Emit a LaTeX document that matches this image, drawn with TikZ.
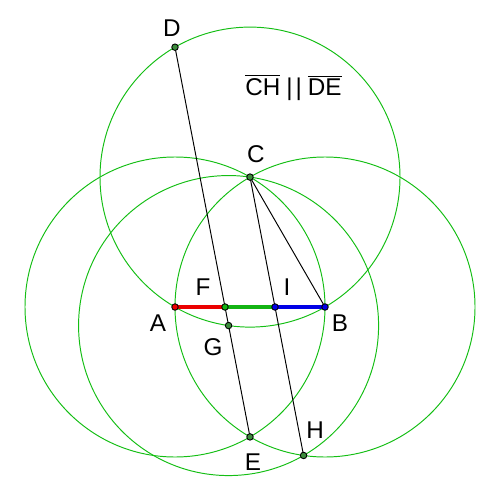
\documentclass[tikz,border=0pt]{standalone}
\usepackage{fontspec}
\setmainfont{Liberation Sans}
\begin{document}
\begin{tikzpicture}[
  circ/.style={draw=cgreen, line width=0.55pt},
  seg/.style={draw=black, line width=0.55pt},
  pt/.style={circle, draw=black, line width=0.5pt, inner sep=0pt, minimum size=0.13cm, fill=#1},
  pt/.default=pgreen,
  lab/.style={font=\fontsize{13.8pt}{16pt}\selectfont, inner sep=0pt}
]
\definecolor{cgreen}{RGB}{20,190,20}
\definecolor{pgreen}{RGB}{60,140,60}
\definecolor{sgreen}{RGB}{20,180,20}
\definecolor{sred}{RGB}{235,0,0}
\definecolor{sblue}{RGB}{0,0,230}
\useasboundingbox (-3.5,-3.82) rectangle (6.5,6.14);
% coordinates
\coordinate (A) at (0,0);
\coordinate (B) at (3,0);
\coordinate (C) at (1.5,2.598076);
\coordinate (D) at (0,5.196152);
\coordinate (E) at (1.5,-2.598076);
\coordinate (F) at (1,0);
\coordinate (I) at (2,0);
\coordinate (G) at (1.071429,-0.371154);
\coordinate (H) at (2.571429,-2.969230);
% circles
\draw[circ] (A) circle[radius=3cm];
\draw[circ] (B) circle[radius=3cm];
\draw[circ] (C) circle[radius=3cm];
\draw[circ] (G) circle[radius=3cm];
% segment AB
\draw[sred, line width=2.3pt] (A) -- (F);
\draw[sgreen, line width=2.3pt] (F) -- (I);
\draw[sblue, line width=2.3pt] (I) -- (B);
% lines
\draw[seg] (D) -- (E);
\draw[seg] (C) -- (H);
\draw[seg] (C) -- (B);
% points
\node[pt=sred] (pA) at (A) {};
\node[pt=sblue] (pB) at (B) {};
\node[pt=sgreen] (pF) at (F) {};
\node[pt=sblue] (pI) at (I) {};
\node[pt] (pC) at (C) {};
\node[pt] (pD) at (D) {};
\node[pt] (pE) at (E) {};
\node[pt] (pG) at (G) {};
\node[pt] (pH) at (H) {};
% labels
\node[lab] (lD) at (-0.06,5.58) {D};
\node[lab] (lC) at (1.62,3.06) {C};
\node[lab] (lA) at (-0.34,-0.32) {A};
\node[lab] (lB) at (3.30,-0.33) {B};
\node[lab] (lF) at (0.56,0.40) {F};
\node[lab] (lI) at (2.24,0.40) {I};
\node[lab] (lG) at (0.76,-0.80) {G};
\node[lab] (lE) at (1.56,-3.10) {E};
\node[lab] (lH) at (2.80,-2.46) {H};
\node[lab] (lT) at (2.37,4.39) {$\overline{\hbox{CH}}$\kern0.12cm|\kern0.06cm|\kern0.12cm$\overline{\hbox{DE}}$};
\end{tikzpicture}
\end{document}
